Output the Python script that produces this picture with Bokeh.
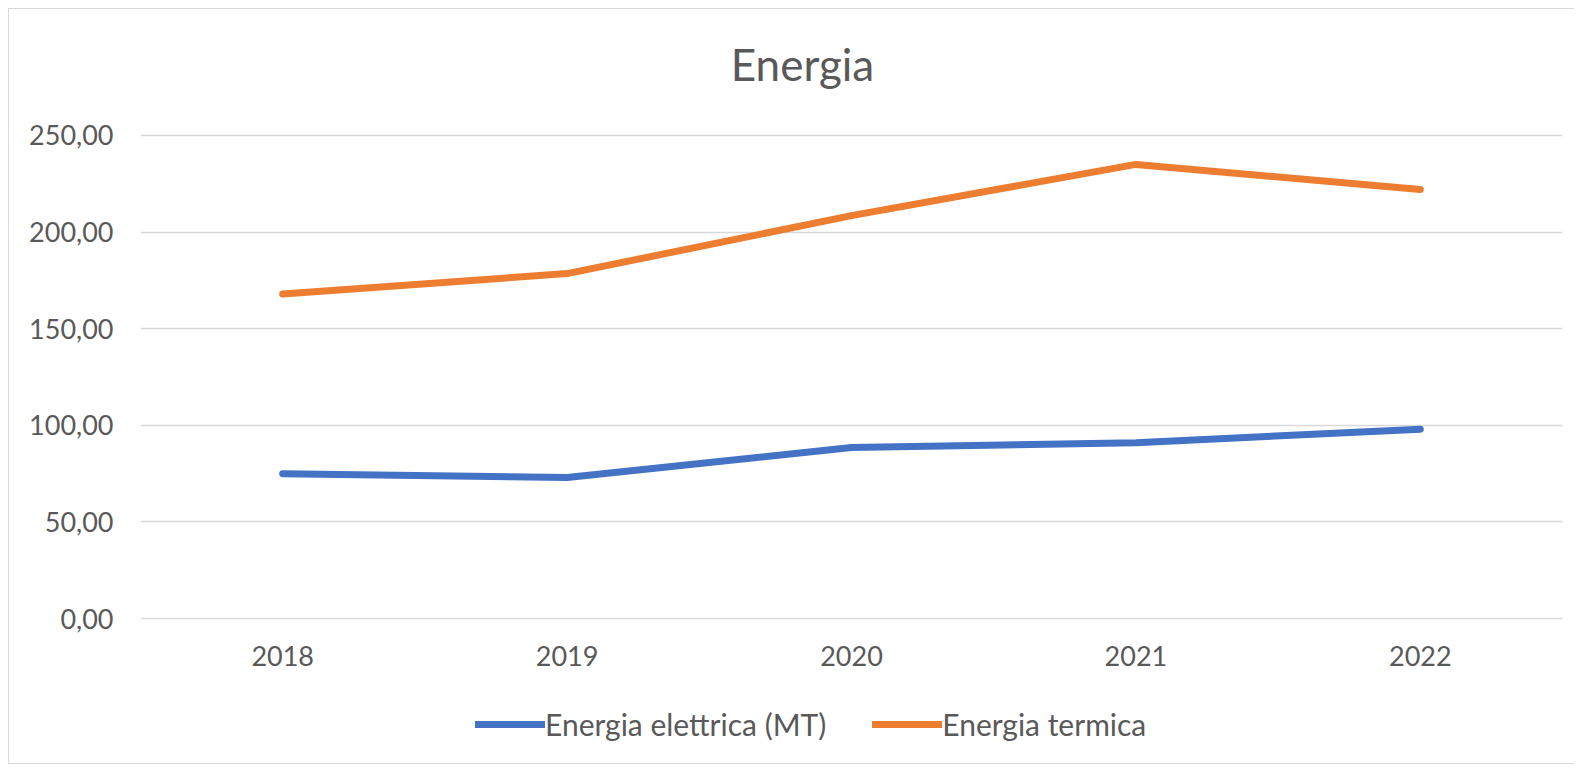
from bokeh.plotting import figure
from bokeh.layouts import column
from bokeh.models import FixedTicker, Legend, LegendItem, Range1d, FactorRange, Label
from bokeh.embed import file_html
from bokeh.resources import INLINE

years = ["2018", "2019", "2020", "2021", "2022"]
energia_elettrica = [75.0, 73.0, 88.5, 91.0, 98.0]
energia_termica = [168.0, 178.5, 208.5, 235.0, 222.0]
y_ticks = [0, 50, 100, 150, 200, 250]
y_tick_labels = ["0,00", "50,00", "100,00", "150,00", "200,00", "250,00"]
series_names = ["Energia elettrica (MT)", "Energia termica"]
series_colors = ["#4472C4", "#ED7D31"]
title_text = "Energia"

FONT = "Lato"
TXT = "#595959"
GRID = "#d9d9d9"
LEFT = 131
RIGHT = 12


def strip(height, x_range, y_range):
    f = figure(width=LEFT + 1422 + RIGHT, height=height, x_range=x_range,
               y_range=y_range, output_backend="svg", toolbar_location=None,
               min_border_left=LEFT, min_border_right=RIGHT, min_border_top=0,
               min_border_bottom=0, x_axis_location=None, y_axis_location=None)
    f.grid.grid_line_color = None
    f.outline_line_color = None
    f.border_fill_color = "white"
    f.background_fill_color = "white"
    return f


# title strip
pt = strip(90, Range1d(0, 1), Range1d(0, 1))
pt.add_layout(Label(x=662, y=36, x_units="screen", y_units="screen",
                    text=title_text, text_align="center", text_baseline="alphabetic",
                    text_font=FONT, text_font_size="44px", text_color=TXT))

# main chart
p = figure(frame_width=1422, frame_height=487, x_range=FactorRange(factors=years),
           y_range=Range1d(-1, 251), output_backend="svg", toolbar_location=None,
           min_border_left=LEFT, min_border_right=RIGHT, min_border_top=34,
           min_border_bottom=70)
p.outline_line_color = None
p.background_fill_color = "white"
p.border_fill_color = "white"
p.xgrid.grid_line_color = None
p.ygrid.grid_line_color = GRID
p.ygrid.grid_line_width = 1.5

p.yaxis.ticker = FixedTicker(ticks=y_ticks)
p.yaxis.major_label_overrides = {t: l for t, l in zip(y_ticks, y_tick_labels)}
for ax in (p.xaxis[0], p.yaxis[0]):
    ax.axis_line_color = None
    ax.major_tick_line_color = None
    ax.minor_tick_line_color = None
    ax.major_tick_out = 0
    ax.major_tick_in = 0
    ax.major_label_text_font = FONT
    ax.major_label_text_font_size = "27px"
    ax.major_label_text_color = TXT
p.yaxis.major_label_standoff = 27
p.xaxis.major_label_standoff = 25

p.line(years, energia_elettrica, line_color=series_colors[0], line_width=7,
       line_cap="round", line_join="round")
p.line(years, energia_termica, line_color=series_colors[1], line_width=7,
       line_cap="round", line_join="round")

# legend strip (series drawn out of view, only their legend entries show)
pl = strip(73, FactorRange(factors=years), Range1d(1000, 1001))
d1 = pl.line(years, energia_elettrica, line_color=series_colors[0], line_width=7,
             line_cap="round")
d2 = pl.line(years, energia_termica, line_color=series_colors[1], line_width=7,
             line_cap="round")
legend = Legend(items=[LegendItem(label=series_names[0], renderers=[d1]),
                       LegendItem(label=series_names[1], renderers=[d2])],
                orientation="horizontal", location=(335, 21),
                label_text_font=FONT, label_text_font_size="30px",
                label_text_color=TXT, glyph_width=70, glyph_height=20,
                label_standoff=0, spacing=46, border_line_color=None,
                background_fill_alpha=0, margin=0, padding=0)
pl.add_layout(legend, "center")

layout = column(pt, p, pl, spacing=0)
layout.styles = {"margin-left": "8px", "margin-top": "8px",
                 "border-left": "1px solid " + GRID, "border-top": "1px solid " + GRID,
                 "border-bottom": "1px solid " + GRID}

open("out.html", "w").write(file_html(layout, INLINE))
